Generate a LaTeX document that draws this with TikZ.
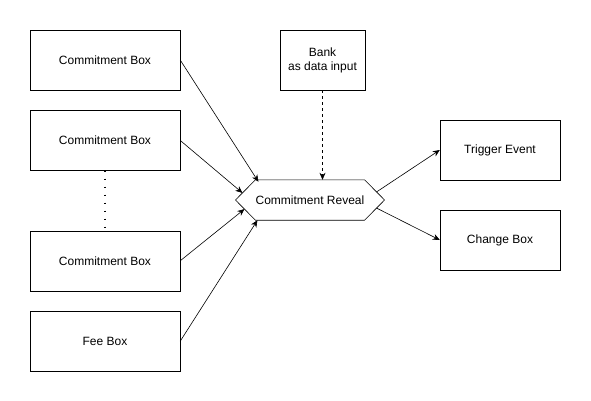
\documentclass[tikz,border=0pt]{standalone}
\usepackage{fontspec}
\setmainfont{Liberation Sans}
\usetikzlibrary{calc,positioning,arrows.meta}

\begin{document}
\begin{tikzpicture}[x=1pt, y=-1pt]
	\tikzset{box/.style={draw=black, rectangle, minimum width=#1, minimum height=60pt, inner sep=0pt, align=center, font=\fontsize{12}{14}\selectfont},
		box/.default=150pt,
		flow/.style={-{Stealth[length=7pt, width=6pt]}, line width=0.6pt}}
	\useasboundingbox (0,0) rectangle (591,401);
	
	% Inputs on the left
	\node[box] (c1) at (105,60) {Commitment Box};
	\node[box, below=20pt of c1] (c2) {Commitment Box};
	\node[box, below=60pt of c2] (c3) {Commitment Box};
	\node[box, below=20pt of c3] (fee) {Fee Box};
	\draw[line width=1.6pt, dash pattern=on 1.6pt off 6.4pt] (c2.south) -- (c3.north);
	
	% Reveal in the middle
	\node[box=85pt] (bank) at (322.5,60) {Bank\\as data input};
	\node[rectangle, minimum width=100pt, minimum height=40pt, inner sep=0pt, font=\fontsize{12}{14}\selectfont] (hex) at (310,200) {Commitment Reveal};
	\coordinate (hexL) at ($(hex.west)+(-20,0)$);
	\coordinate (hexR) at ($(hex.east)+(20,0)$);
	\draw[line width=0.6pt] (hex.north west) -- (hex.north east) -- (hexR) -- (hex.south east) -- (hex.south west) -- (hexL) -- cycle;
	
	% Outputs on the right
	\node[box=120pt] (trig) at (500,150) {Trigger Event};
	\node[box=120pt] (chg) at (500,240) {Change Box};
	
	\draw[flow] (c1.east) -- ($(hex.north west)+(3,2)$);
	\draw[flow] (c2.east) -- ($(hexL)!0.35!(hex.north west)$);
	\draw[flow] (c3.east) -- ($(hexL)!0.45!(hex.south west)$);
	\draw[flow] (fee.east) -- ($(hex.south west)+(2,0)$);
	\draw[flow, dashed] (bank.south) -- (bank.south |- hex.north);
	\draw[flow] ($(hexR)!0.4!(hex.north east)$) -- (trig.west);
	\draw[flow] ($(hexR)!0.4!(hex.south east)$) -- (chg.west);
\end{tikzpicture}
\end{document}
